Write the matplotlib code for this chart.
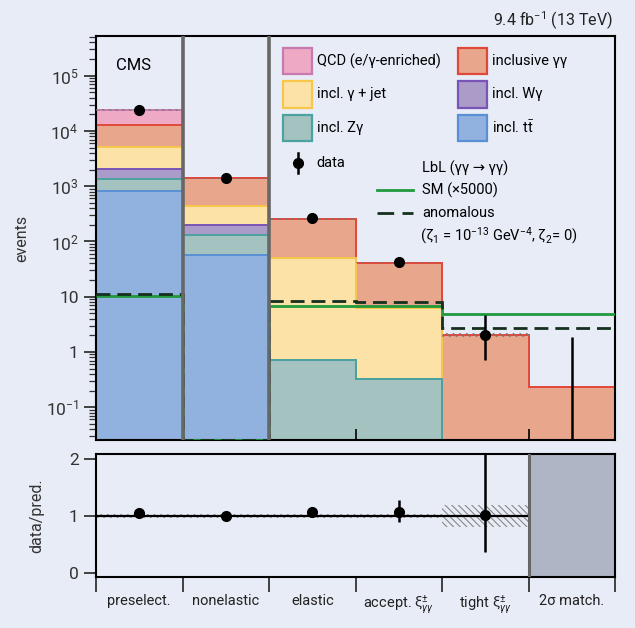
"""
plot.py - LbL selection-step yields, stacked backgrounds + data/pred ratio
"""

import matplotlib
matplotlib.use('Agg')
import matplotlib.pyplot as plt
import numpy as np
from matplotlib.patches import Rectangle
from matplotlib.lines import Line2D

plt.rcParams['font.family'] = ['Roboto', 'DejaVu Sans']
plt.rcParams['mathtext.fontset'] = 'custom'
plt.rcParams['mathtext.rm'] = 'Roboto'
plt.rcParams['mathtext.it'] = 'Roboto:italic'
plt.rcParams['mathtext.sf'] = 'Roboto'
plt.rcParams['mathtext.fallback'] = 'stixsans'
plt.rcParams['hatch.linewidth'] = 0.8

# ---- data ----
categories = ['preselect.', 'nonelastic', 'elastic',
              'accept. $\\mathrm{\\xi}^{\\pm}_{\\gamma\\gamma}$',
              'tight $\\mathrm{\\xi}^{\\pm}_{\\gamma\\gamma}$', '2σ match.']

# stacked backgrounds, bottom to top
bkg_ttbar = [810, 56, 0, 0, 0, 0]
bkg_zgamma = [530, 75, 0.73, 0.33, 0, 0]
bkg_wgamma = [700, 64, 0, 0, 0, 0]
bkg_gjet = [3160, 238, 49.3, 5.8, 0, 0]
bkg_diphoton = [7860, 947, 205, 35.4, 2.0, 0.23]
bkg_qcd = [10740, 5, 0, 0, 0, 0]

data_counts = [23800, 1380, 265, 43, 2.0, 0]
data_err_low = [150, 37, 16, 6.5, 1.29, 0]
data_err_high = [150, 37, 16, 6.5, 2.64, 1.84]

sm_lbl = [10.4, 0, 6.8, 6.8, 4.9, 4.9]        # SM x 5000
anomalous_lbl = [11.0, 0, 8.4, 8.0, 2.75, 2.75]

unc_rel = [0.03, 0.03, 0.03, 0.03, 0.08, 0.0]

ratio_values = [1.05, 1.0, 1.06, 1.07, 1.01]
ratio_err_low = [0.015, 0.03, 0.06, 0.17, 0.64]
ratio_err_high = [0.015, 0.03, 0.06, 0.21, 1.3]
ratio_band = [0.03, 0.03, 0.03, 0.03, 0.19]

# ---- style ----
BG = '#e8ecf6'
components = [
    ('incl. t$\\mathrm{\\bar{t}}$', bkg_ttbar, '#91b2de', '#5a8fd6'),
    ('incl. Zγ', bkg_zgamma, '#a3c2c0', '#4aa3a0'),
    ('incl. Wγ', bkg_wgamma, '#ab9bc9', '#7a55b8'),
    ('incl. γ + jet', bkg_gjet, '#fde2a8', '#f7c64a'),
    ('inclusive γγ', bkg_diphoton, '#e8a68c', '#e0493a'),
    ('QCD (e/γ-enriched)', bkg_qcd, '#eeaac4', '#c87ab0'),
]
FLOOR = 1e-3
YMIN, YMAX = 0.0255, 5.3e5
FS = 10.5

n_bins = len(categories)
edges = np.arange(n_bins + 1)
centers = edges[:-1] + 0.5

fig = plt.figure(figsize=(6.35, 6.28), dpi=100, facecolor=BG)
ax = fig.add_axes([96 / 635, 1 - 440 / 628, 519 / 635, 404.3 / 628], facecolor=BG)
rax = fig.add_axes([96 / 635, 1 - 577 / 628, 519 / 635, 123 / 628], facecolor=BG)

# ---- stacked histogram ----
cum = np.zeros(n_bins)
tops = []
for label, values, face, edge in components:
    low = np.maximum(cum, FLOOR)
    cum = cum + np.array(values, dtype=float)
    high = np.maximum(cum, FLOOR)
    ax.stairs(high, edges, baseline=low, fill=True, facecolor=face, linewidth=0, zorder=1)
    tops.append((high, edge))
# outlines drawn top component first so the lower one wins where they coincide
for high, edge in reversed(tops):
    ax.stairs(high, edges, baseline=None, color=edge, linewidth=1.4, zorder=2)

total = np.maximum(cum, FLOOR)
unc = np.array(unc_rel)
ax.stairs(total * (1 + unc), edges, baseline=np.maximum(total * (1 - unc), FLOOR),
          fill=True, facecolor='none', edgecolor='#777777', hatch='\\\\\\\\\\', linewidth=0, zorder=3)

# separators of the first three selection steps
for x in [1, 2]:
    ax.axvline(x, color='#676767', linewidth=2.6, zorder=6)

# LbL signal lines
sm_plot = np.maximum(sm_lbl, YMIN * 1.02)
an_plot = np.maximum(anomalous_lbl, YMIN * 1.02)
ax.stairs(sm_plot, edges, baseline=None, color='#1f9a3c', linewidth=2, zorder=4)
ax.stairs(an_plot, edges, baseline=None, color='#15301f', linewidth=2,
          linestyle=(0, (5, 2.5)), zorder=4)

# data
mask = np.array(data_counts) > 0
ax.errorbar(centers[mask], np.array(data_counts)[mask],
            yerr=[np.array(data_err_low)[mask], np.array(data_err_high)[mask]],
            fmt='o', color='black', markersize=7, elinewidth=1.8, capsize=0, zorder=7)
ax.errorbar(centers[~mask], [YMIN * 0.5], yerr=[[0], [np.array(data_err_high)[~mask][0]]],
            fmt='none', ecolor='black', elinewidth=1.8, capsize=0, zorder=7)

ax.set_yscale('log')
ax.set_ylim(YMIN, YMAX)
ax.set_xlim(0, n_bins)
major = [0.1, 1, 10, 100, 1e3, 1e4, 1e5]
ax.set_yticks(major)
ax.set_yticklabels(['$10^{-1}$', '1', '10', '$10^{2}$', '$10^{3}$', '$10^{4}$', '$10^{5}$'], fontsize=12.5)
ax.tick_params(axis='y', which='major', direction='out', length=9, width=1.3, color='#333333', labelcolor='#333333')
ax.tick_params(axis='y', which='minor', direction='out', length=5, width=0.9, color='#333333')
ax.set_xticks(edges[1:-1])
ax.set_xticklabels([])
ax.tick_params(axis='x', which='major', direction='in', length=8, width=1.2)
for spine in ax.spines.values():
    spine.set_linewidth(1.5)

fig.text(22 / 635, 1 - 238 / 628, 'events', rotation=90, ha='center', va='center', fontsize=11.5, color='#333333')
fig.text(613 / 635, 1 - 21 / 628, '9.4 fb$^{-1}$ (13 TeV)', ha='right', va='center', fontsize=11.5, color='#222222')


def px(x, y):
    return ((x - 96) / 519, (440 - y) / 404.3)


ax.text(*px(116, 66), 'CMS', ha='left', va='center', fontsize=12, transform=ax.transAxes, zorder=8)

# ---- legend, placed by hand ----
leg_order = [components[5], components[3], components[1], components[4], components[2], components[0]]
for i, (label, _, face, edge) in enumerate(leg_order):
    col, row = divmod(i, 3)
    x0 = 283 if col == 0 else 458
    yc = 61 + 33.5 * row
    x_a, y_a = px(x0, yc + 13)
    w = 29 / 519
    h = 26 / 404.3
    ax.add_patch(Rectangle((x_a, y_a), w, h, transform=ax.transAxes, facecolor=face,
                           edgecolor=edge, linewidth=1.6, zorder=8))
    ax.text(*px(x0 + 34, yc), label, ha='left', va='center', fontsize=FS, transform=ax.transAxes, zorder=8)

xd, yd = px(298, 163)
ax.add_line(Line2D([xd, xd], [px(0, 153)[1], px(0, 173)[1]], color='black', lw=1.8, transform=ax.transAxes, zorder=8))
ax.plot([xd], [yd], 'o', color='black', markersize=7, transform=ax.transAxes, zorder=8)
ax.text(*px(316, 163), 'data', ha='left', va='center', fontsize=FS, transform=ax.transAxes, zorder=8)

ax.text(*px(422, 168), 'LbL (γγ → γγ)', ha='left', va='center', fontsize=FS, transform=ax.transAxes, zorder=8)
ax.add_line(Line2D([px(377, 0)[0], px(413, 0)[0]], [px(0, 190.5)[1]] * 2, color='#1f9a3c', lw=2,
                   transform=ax.transAxes, zorder=8))
ax.text(*px(422, 190.5), 'SM (×5000)', ha='left', va='center', fontsize=FS, transform=ax.transAxes, zorder=8)
ax.add_line(Line2D([px(377, 0)[0], px(413, 0)[0]], [px(0, 213)[1]] * 2, color='#15301f', lw=2,
                   linestyle=(0, (6, 3)), transform=ax.transAxes, zorder=8))
ax.text(*px(422, 213), 'anomalous', ha='left', va='center', fontsize=FS, transform=ax.transAxes, zorder=8)
ax.text(*px(420, 236), '(ζ$_1$ = 10$^{-13}$ GeV$^{-4}$, ζ$_2$= 0)', ha='left', va='center', fontsize=FS,
        transform=ax.transAxes, zorder=8)

# ---- ratio panel ----
n_r = len(ratio_values)
band = np.array(ratio_band)
rax.stairs(1 + band, edges[:n_r + 1], baseline=1 - band, fill=True, facecolor='none',
           edgecolor='#888888', hatch='\\\\\\\\\\', linewidth=0, zorder=2)
rax.hlines(1, 0, n_r, color='black', linewidth=1.6, zorder=3)
rax.errorbar(centers[:n_r], ratio_values, yerr=[ratio_err_low, ratio_err_high], fmt='o', color='black',
             markersize=7, elinewidth=1.8, capsize=0, zorder=4)
rax.axvspan(n_r, n_bins, color='#b0b5c6', zorder=1)
rax.axvline(n_r, color='#676767', linewidth=2.2, zorder=5)

rax.set_xlim(0, n_bins)
rax.set_ylim(-0.07, 2.08)
rax.set_yticks([0, 1, 2])
rax.set_yticklabels(['0', '1', '2'], fontsize=12.5, color='#333333')
rax.tick_params(axis='y', direction='out', length=9, width=1.3, color='#333333')
rax.set_xticks(edges)
rax.set_xticklabels([])
rax.tick_params(axis='x', which='major', direction='out', length=11, width=1.3, color='#333333')
rax.set_xticks(centers, minor=True)
rax.set_xticklabels(categories, minor=True, fontsize=FS, color='#222222')
rax.tick_params(axis='x', which='minor', length=0, pad=12)
for spine in rax.spines.values():
    spine.set_linewidth(1.5)

fig.text(37 / 635, 1 - 516 / 628, 'data/pred.', rotation=90, ha='center', va='center', fontsize=11.5, color='#333333')

plt.savefig('out.png', dpi=100, facecolor=BG)
